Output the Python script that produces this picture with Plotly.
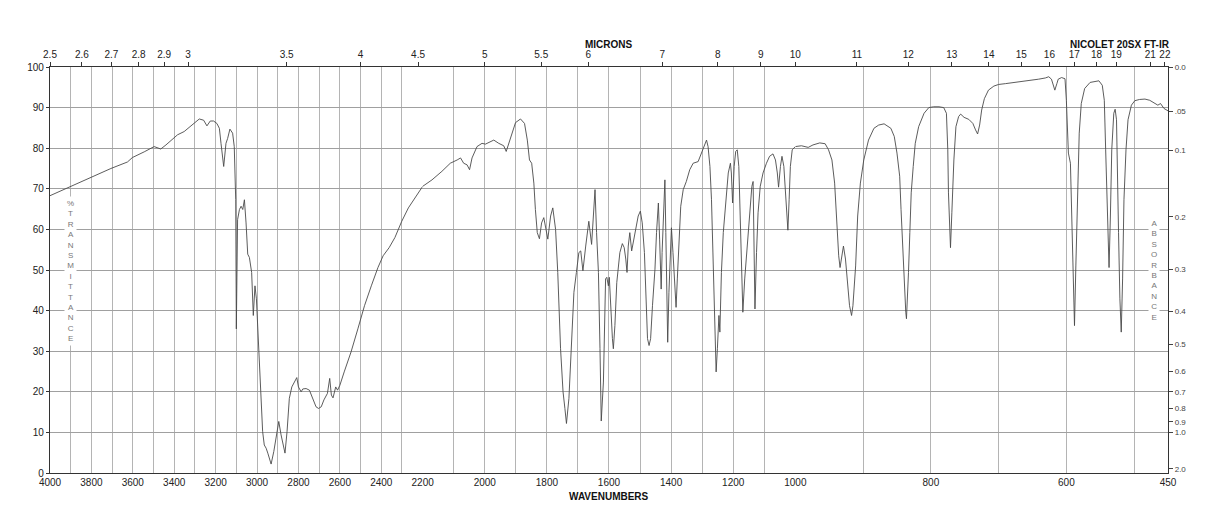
import plotly.graph_objects as go

# ---------------- data ----------------
wavenumber = [
    4000, 3868, 3771, 3706, 3626, 3602, 3545, 3497, 3465, 3440, 3384, 3352, 3319, 3279, 3258,
    3242, 3226, 3210, 3194, 3182, 3174, 3161, 3150, 3142, 3131, 3118, 3110, 3103, 3100, 3094,
    3085, 3077, 3069, 3061, 3053, 3045, 3037, 3026, 3018, 3010, 3003, 2997, 2989, 2981, 2973,
    2965, 2956, 2948, 2940, 2932, 2919, 2908, 2895, 2884, 2873, 2865, 2855, 2844, 2832, 2819,
    2808, 2800, 2787, 2779, 2763, 2747, 2731, 2715, 2703, 2690, 2677, 2660, 2649, 2641, 2633,
    2620, 2611, 2600, 2579, 2546, 2513, 2481, 2448, 2416, 2391, 2362, 2334, 2301, 2269, 2236,
    2200, 2170, 2138, 2111, 2089, 2078, 2068, 2057, 2049, 2041, 2025, 2009, 1998, 1971, 1955,
    1939, 1931, 1917, 1901, 1885, 1872, 1863, 1856, 1849, 1842, 1837, 1831, 1824, 1817, 1810,
    1802, 1797, 1788, 1781, 1772, 1765, 1756, 1748, 1742, 1737, 1729, 1721, 1713, 1705, 1697,
    1691, 1684, 1675, 1665, 1656, 1651, 1645, 1640, 1634, 1629, 1625, 1618, 1614, 1611, 1607,
    1602, 1599, 1595, 1589, 1586, 1581, 1575, 1570, 1565, 1557, 1551, 1546, 1542, 1538, 1533,
    1527, 1520, 1513, 1506, 1499, 1493, 1486, 1481, 1476, 1471, 1466, 1460, 1452, 1447, 1441,
    1437, 1432, 1429, 1424, 1420, 1417, 1414, 1411, 1407, 1403, 1399, 1394, 1388, 1384, 1380,
    1375, 1369, 1361, 1351, 1340, 1329, 1313, 1302, 1296, 1286, 1281, 1275, 1270, 1265, 1259,
    1255, 1251, 1246, 1243, 1238, 1232, 1225, 1216, 1209, 1206, 1202, 1197, 1192, 1187, 1182,
    1178, 1174, 1169, 1163, 1154, 1147, 1140, 1136, 1133, 1130, 1125, 1120, 1113, 1104, 1093,
    1083, 1072, 1064, 1058, 1054, 1048, 1043, 1037, 1032, 1027, 1024, 1020, 1016, 1010, 1002,
    1000, 991, 981, 974, 964, 956, 951, 946, 942, 939, 936, 934, 931, 929, 926,
    923, 920, 917, 915, 911, 908, 904, 899, 892, 884, 877, 869, 859, 854, 850,
    846, 844, 841, 839, 837, 836, 835, 833, 831, 829, 826, 823, 818, 810, 803,
    796, 788, 781, 777, 775, 774, 772, 771, 769, 766, 763, 759, 756, 751, 744,
    738, 734, 731, 728, 725, 721, 715, 707, 700, 690, 680, 671, 661, 651, 641,
    631, 626, 622, 619, 617, 614, 612, 607, 602, 600, 597, 594, 592, 590, 588,
    586, 584, 581, 578, 573, 565, 558, 552, 547, 544, 542, 540, 538, 537, 535,
    533, 530, 528, 526, 525, 523, 521, 519, 517, 515, 512, 509, 504, 499, 492,
    484, 477, 470, 465, 461, 456, 450,
]
transmittance = [
    68.3, 71.3, 73.5, 75.0, 76.6, 77.7, 79.1, 80.4, 79.8, 80.8, 83.3, 84.1, 85.5, 87.2, 86.9,
    85.5, 86.7, 86.7, 86.1, 84.9, 81.2, 75.5, 81.2, 82.4, 84.7, 83.7, 80.4, 67.3, 35.5, 62.4,
    64.9, 65.7, 64.9, 67.3, 61.6, 53.9, 53.1, 49.4, 38.8, 46.1, 42.9, 36.3, 29.0, 18.4, 10.2,
    6.9, 6.1, 4.9, 3.3, 2.2, 5.3, 8.6, 12.7, 9.4, 6.9, 4.9, 10.2, 18.4, 21.2, 22.4,
    23.5, 21.2, 20.0, 20.7, 20.8, 20.4, 18.4, 16.3, 15.9, 16.3, 18.0, 19.6, 23.3, 19.2, 18.5,
    21.2, 20.4, 21.6, 24.9, 29.8, 35.5, 41.2, 46.1, 50.6, 53.5, 55.5, 58.0, 62.0, 65.3, 67.8,
    70.6, 72.2, 74.3, 76.3, 77.1, 77.6, 76.3, 75.9, 74.7, 77.6, 80.4, 81.2, 81.0, 82.0, 81.2,
    80.6, 79.2, 82.4, 86.3, 87.2, 86.1, 82.0, 77.1, 76.3, 71.4, 64.9, 59.2, 57.7, 61.6, 62.9,
    60.0, 57.6, 63.3, 65.3, 60.0, 49.4, 30.6, 20.0, 15.9, 12.2, 18.4, 29.8, 44.5, 49.4, 54.3,
    54.7, 49.8, 55.9, 62.0, 56.3, 63.3, 69.8, 59.2, 49.4, 30.6, 12.8, 22.4, 38.8, 47.8, 48.2,
    46.1, 48.2, 41.2, 33.1, 30.6, 36.3, 46.9, 51.0, 54.3, 56.5, 55.5, 52.7, 49.4, 55.9, 59.2,
    54.7, 57.6, 60.0, 63.3, 64.5, 61.6, 54.3, 44.5, 33.1, 31.4, 33.1, 41.2, 50.2, 59.2, 66.5,
    57.6, 45.3, 54.3, 65.7, 72.2, 59.2, 42.9, 32.2, 44.5, 54.3, 60.4, 54.3, 46.1, 40.8, 47.8,
    57.6, 65.7, 69.8, 71.8, 74.7, 76.3, 76.7, 78.8, 80.4, 82.0, 80.4, 75.5, 67.3, 51.0, 34.7,
    24.9, 30.6, 38.8, 34.7, 49.4, 59.2, 65.7, 73.9, 76.3, 73.9, 66.5, 75.5, 79.2, 79.6, 75.5,
    63.3, 51.0, 39.6, 47.8, 57.6, 64.1, 70.6, 71.8, 59.2, 40.4, 54.3, 64.1, 70.6, 73.9, 76.3,
    78.0, 78.6, 77.1, 73.9, 70.4, 75.5, 78.0, 75.5, 69.0, 62.4, 59.8, 67.3, 75.5, 79.6, 80.4,
    80.4, 80.6, 80.2, 80.8, 81.3, 81.1, 79.6, 77.1, 71.4, 61.6, 53.5, 50.6, 54.3, 55.9, 52.7,
    46.9, 41.2, 38.8, 41.2, 51.0, 63.3, 71.4, 77.1, 82.0, 84.9, 85.7, 86.0, 84.9, 82.9, 78.8,
    73.1, 64.9, 54.3, 44.5, 39.6, 38.0, 41.2, 49.4, 59.2, 69.0, 75.5, 81.2, 85.3, 88.6, 90.0,
    90.2, 90.2, 90.0, 88.6, 79.6, 69.0, 60.8, 55.5, 64.1, 77.1, 85.3, 87.8, 88.4, 87.6, 87.1,
    86.1, 84.5, 83.5, 85.7, 89.4, 92.2, 94.3, 95.3, 95.7, 95.9, 96.1, 96.3, 96.5, 96.7, 97.0,
    97.3, 97.6, 97.0, 95.5, 94.3, 95.9, 97.0, 97.4, 97.1, 91.8, 78.8, 76.3, 63.3, 46.9, 36.3,
    51.0, 67.3, 83.7, 91.0, 94.7, 96.2, 96.5, 96.6, 95.5, 91.8, 79.6, 65.7, 56.7, 50.6, 63.3,
    79.6, 88.6, 89.6, 87.0, 75.5, 59.2, 42.9, 34.7, 47.8, 67.3, 79.6, 87.0, 90.6, 91.7, 92.0,
    92.1, 91.8, 91.2, 90.6, 91.0, 89.8, 89.2,
]

# axis break points (chart uses three scale segments)
segment_ranges = [(4000, 2200), (2200, 1000), (1000, 450)]
bottom_ticks = [
    [4000, 3800, 3600, 3400, 3200, 3000, 2800, 2600, 2400, 2200],
    [2000, 1800, 1600, 1400, 1200, 1000],
    [800, 600, 450],
]
microns = [2.5, 2.6, 2.7, 2.8, 2.9, 3, 3.5, 4, 4.5, 5, 5.5, 6, 7, 8, 9, 10,
           11, 12, 13, 14, 15, 16, 17, 18, 19, 21, 22]
micron_labels = ["2.5", "2.6", "2.7", "2.8", "2.9", "3", "3.5", "4", "4.5", "5", "5.5",
                 "6", "7", "8", "9", "10", "11", "12", "13", "14", "15", "16", "17",
                 "18", "19", "21", "22"]
absorbance = [0.0, 0.05, 0.1, 0.2, 0.3, 0.4, 0.5, 0.6, 0.7, 0.8, 0.9, 1.0, 2.0]
absorbance_labels = ["0.0", ".05", "0.1", "0.2", "0.3", "0.4", "0.5", "0.6", "0.7",
                     "0.8", "0.9", "1.0", "2.0"]
pct_ticks = list(range(0, 101, 10))

# ---------------- figure ----------------
FONT = "Liberation Sans, Arial, Helvetica, sans-serif"
LINE = "#4a4a4a"
fig = go.Figure()

domains = [[0, 1 / 3], [1 / 3, 2 / 3], [2 / 3, 1]]
for i, (hi, lo) in enumerate(segment_ranges):
    xs, ys = [], []
    for w, t in zip(wavenumber, transmittance):
        if lo <= w <= hi:
            xs.append(w)
            ys.append(t)
    xname = "x" if i == 0 else f"x{i + 1}"
    fig.add_trace(go.Scatter(x=xs, y=ys, mode="lines", xaxis=xname, yaxis="y",
                             line=dict(color=LINE, width=0.9), showlegend=False,
                             hoverinfo="x+y"))

# the page body has an 8px margin; margins are shifted so the plot box lands
# at the same pixel place as in the reference
layout = dict(
    width=1218, height=528,
    margin=dict(l=42, r=58, t=59, b=63),
    paper_bgcolor="white", plot_bgcolor="white",
    font=dict(family=FONT, size=10, color="#222"),
    showlegend=False,
)

for i, (hi, lo) in enumerate(segment_ranges):
    key = "xaxis" if i == 0 else f"xaxis{i + 1}"
    layout[key] = dict(
        domain=domains[i], range=[hi, lo], anchor="y",
        tickmode="array", tickvals=bottom_ticks[i],
        ticktext=[str(v) for v in bottom_ticks[i]],
        ticks="", showgrid=False, zeroline=False,
        showline=True, linecolor="#333", linewidth=1.2, mirror=True,
        minor=dict(tickmode="linear", tick0=0, dtick=100, showgrid=True,
                   gridcolor="#b4b4b4", gridwidth=1, ticks=""),
        tickfont=dict(size=10, color="#222"),
    )
    # top micron axis
    mk = f"xaxis{i + 4}"
    vals, txt = [], []
    for m, lab in zip(microns, micron_labels):
        w = 10000.0 / m
        if lo - 0.5 <= w <= hi + 0.5 and not (i > 0 and abs(w - hi) < 1):
            vals.append(w)
            txt.append(lab)
    layout[mk] = dict(
        overlaying="x" if i == 0 else f"x{i + 1}", side="top", anchor="y",
        range=[hi, lo], tickmode="array", tickvals=vals, ticktext=txt,
        ticks="outside", ticklen=4, tickcolor="#333", tickwidth=1,
        showgrid=False, zeroline=False, showline=False,
        tickfont=dict(size=10, color="#222"),
    )

layout["yaxis"] = dict(
    range=[0, 100], anchor="x", tickmode="array", tickvals=pct_ticks,
    ticks="outside", ticklen=3, tickcolor="#333",
    showgrid=True, gridcolor="#a0a0a0", gridwidth=1, zeroline=False,
    showline=True, linecolor="#333", linewidth=1.2,
    tickfont=dict(size=10, color="#222"),
)
layout["yaxis2"] = dict(
    range=[0, 100], overlaying="y", side="right", anchor="x3",
    tickmode="array", tickvals=[100 * 10 ** (-a) for a in absorbance],
    ticktext=absorbance_labels, ticks="outside", ticklen=4, tickcolor="#444",
    showgrid=False, zeroline=False, showline=True, linecolor="#333", linewidth=1.2,
    tickfont=dict(size=8, color="#444"),
)

# traces for overlay axes so they render
for i, (hi, lo) in enumerate(segment_ranges):
    fig.add_trace(go.Scatter(x=[hi], y=[None], xaxis=f"x{i + 4}", yaxis="y",
                             mode="markers", showlegend=False, hoverinfo="skip"))
fig.add_trace(go.Scatter(x=[450], y=[None], xaxis="x3", yaxis="y2",
                         mode="markers", showlegend=False, hoverinfo="skip"))

fig.update_layout(**layout)

annos = [
    dict(text="<b>MICRONS</b>", x=0.5, y=1, xref="paper", yref="paper",
         yanchor="middle", yshift=23, showarrow=False, font=dict(size=10, color="#111")),
    dict(text="<b>NICOLET 20SX FT-IR</b>", x=1, y=1, xref="paper", yref="paper",
         xanchor="right", yanchor="middle", yshift=23, xshift=4, showarrow=False,
         font=dict(size=10, color="#111")),
    dict(text="<b>WAVENUMBERS</b>", x=0.5, y=0, xref="paper", yref="paper",
         yanchor="middle", yshift=-23, showarrow=False, font=dict(size=10, color="#111")),
    dict(text="<br>".join(list("%TRANSMITTANCE")), x=3900, y=49.8, xref="x", yref="y",
         showarrow=False, bgcolor="white", borderpad=2,
         font=dict(size=8, color="#777")),
    dict(text="<br>".join(list("ABSORBANCE")), x=470, y=49.8, xref="x3", yref="y",
         showarrow=False, bgcolor="white", borderpad=2,
         font=dict(size=8, color="#777")),
]
fig.update_layout(annotations=annos)

fig.write_html("out.html")
